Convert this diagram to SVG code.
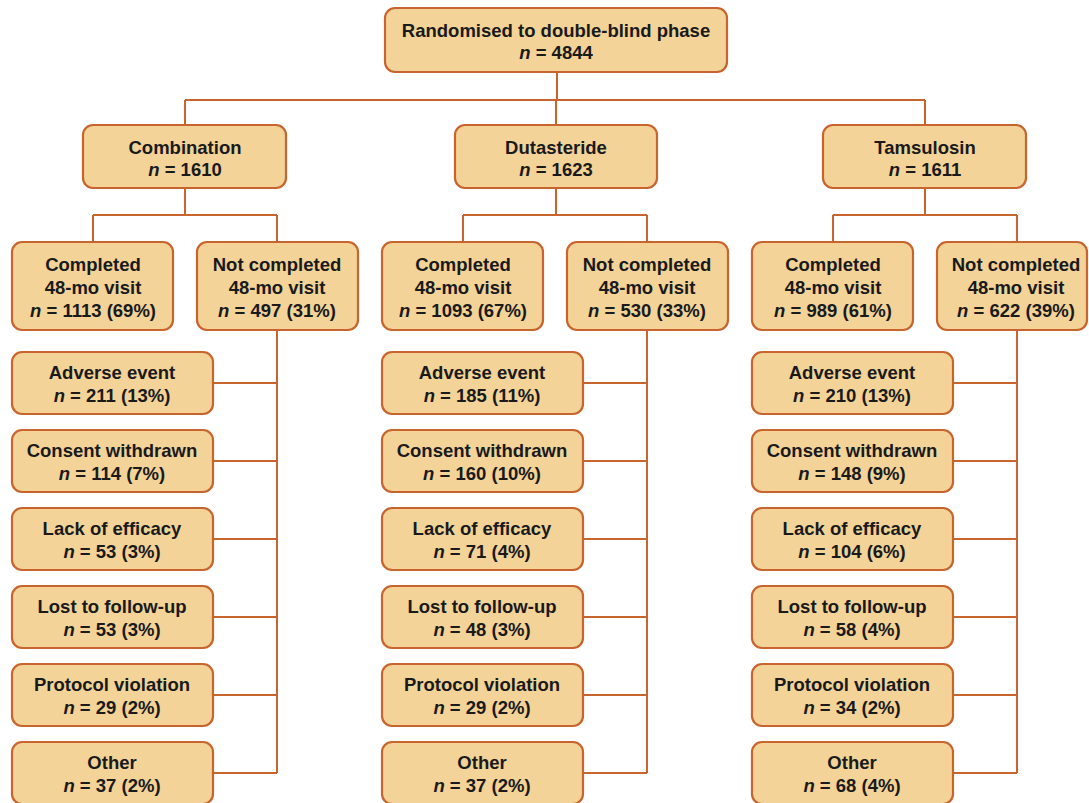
<svg xmlns="http://www.w3.org/2000/svg" width="1089" height="803" viewBox="0 0 1089 803">
<style>
.b{fill:#F3D398;stroke:#C8642D;stroke-width:2.2}
.t{font-family:"Liberation Sans",Arial,sans-serif;font-weight:bold;font-size:18.5px;fill:#1a1a1a;text-anchor:middle}
.i{font-style:italic}
.c{fill:none;stroke:#C8642D;stroke-width:2}
</style>
<rect width="1089" height="803" fill="#fff"/>
<g id="connectors" class="c">
<path d="M557 72V100M185 100H925M185 100V125M556 100V125M925 100V125"/>
<path d="M185 188V215M93 215H277M93 215V242M277 215V242"/>
<path d="M556 188V215M463 215H647M463 215V242M647 215V242"/>
<path d="M925 188V215M833 215H1017M833 215V242M1017 215V242"/>
<path d="M277 330V773M213 383H277M213 461H277M213 539H277M213 617H277M213 695H277M213 773H277"/>
<path d="M647 330V773M583 383H647M583 461H647M583 539H647M583 617H647M583 695H647M583 773H647"/>
<path d="M1017 330V773M953 383H1017M953 461H1017M953 539H1017M953 617H1017M953 695H1017M953 773H1017"/>
</g>
<g id="top"><rect class="b" x="385" y="8" width="342" height="64" rx="10"/><text class="t" x="556" y="37">Randomised to double-blind phase</text><text class="t" x="556" y="59"><tspan class="i">n</tspan> = 4844</text></g>
<g id="comb"><rect class="b" x="83" y="125" width="203" height="63" rx="10"/><text class="t" x="185" y="154">Combination</text><text class="t" x="185" y="176"><tspan class="i">n</tspan> = 1610</text></g>
<g id="dut"><rect class="b" x="455" y="125" width="202" height="63" rx="10"/><text class="t" x="556" y="154">Dutasteride</text><text class="t" x="556" y="176"><tspan class="i">n</tspan> = 1623</text></g>
<g id="tam"><rect class="b" x="823" y="125" width="203" height="63" rx="10"/><text class="t" x="925" y="154">Tamsulosin</text><text class="t" x="925" y="176"><tspan class="i">n</tspan> = 1611</text></g>

<g id="comb-comp"><rect class="b" x="12" y="242" width="161" height="88" rx="10"/><text class="t" x="93" y="271">Completed</text><text class="t" x="93" y="294">48-mo visit</text><text class="t" x="93" y="317"><tspan class="i">n</tspan> = 1113 (69%)</text></g>
<g id="comb-not"><rect class="b" x="197" y="242" width="161" height="88" rx="10"/><text class="t" x="277" y="271">Not completed</text><text class="t" x="277" y="294">48-mo visit</text><text class="t" x="277" y="317"><tspan class="i">n</tspan> = 497 (31%)</text></g>
<g id="dut-comp"><rect class="b" x="382" y="242" width="161" height="88" rx="10"/><text class="t" x="463" y="271">Completed</text><text class="t" x="463" y="294">48-mo visit</text><text class="t" x="463" y="317"><tspan class="i">n</tspan> = 1093 (67%)</text></g>
<g id="dut-not"><rect class="b" x="567" y="242" width="161" height="88" rx="10"/><text class="t" x="647" y="271">Not completed</text><text class="t" x="647" y="294">48-mo visit</text><text class="t" x="647" y="317"><tspan class="i">n</tspan> = 530 (33%)</text></g>
<g id="tam-comp"><rect class="b" x="752" y="242" width="161" height="88" rx="10"/><text class="t" x="833" y="271">Completed</text><text class="t" x="833" y="294">48-mo visit</text><text class="t" x="833" y="317"><tspan class="i">n</tspan> = 989 (61%)</text></g>
<g id="tam-not"><rect class="b" x="937" y="242" width="150" height="88" rx="10"/><text class="t" x="1016" y="271">Not completed</text><text class="t" x="1016" y="294">48-mo visit</text><text class="t" x="1016" y="317"><tspan class="i">n</tspan> = 622 (39%)</text></g>

<g id="c-ae"><rect class="b" x="12" y="352" width="201" height="62" rx="10"/><text class="t" x="112" y="379">Adverse event</text><text class="t" x="112" y="402"><tspan class="i">n</tspan> = 211 (13%)</text></g>
<g id="c-cw"><rect class="b" x="12" y="430" width="201" height="62" rx="10"/><text class="t" x="112" y="457">Consent withdrawn</text><text class="t" x="112" y="480"><tspan class="i">n</tspan> = 114 (7%)</text></g>
<g id="c-le"><rect class="b" x="12" y="508" width="201" height="62" rx="10"/><text class="t" x="112" y="535">Lack of efficacy</text><text class="t" x="112" y="558"><tspan class="i">n</tspan> = 53 (3%)</text></g>
<g id="c-lf"><rect class="b" x="12" y="586" width="201" height="62" rx="10"/><text class="t" x="112" y="613">Lost to follow-up</text><text class="t" x="112" y="636"><tspan class="i">n</tspan> = 53 (3%)</text></g>
<g id="c-pv"><rect class="b" x="12" y="664" width="201" height="62" rx="10"/><text class="t" x="112" y="691">Protocol violation</text><text class="t" x="112" y="714"><tspan class="i">n</tspan> = 29 (2%)</text></g>
<g id="c-ot"><rect class="b" x="12" y="742" width="201" height="62" rx="10"/><text class="t" x="112" y="769">Other</text><text class="t" x="112" y="792"><tspan class="i">n</tspan> = 37 (2%)</text></g>

<g id="d-ae"><rect class="b" x="382" y="352" width="201" height="62" rx="10"/><text class="t" x="482" y="379">Adverse event</text><text class="t" x="482" y="402"><tspan class="i">n</tspan> = 185 (11%)</text></g>
<g id="d-cw"><rect class="b" x="382" y="430" width="201" height="62" rx="10"/><text class="t" x="482" y="457">Consent withdrawn</text><text class="t" x="482" y="480"><tspan class="i">n</tspan> = 160 (10%)</text></g>
<g id="d-le"><rect class="b" x="382" y="508" width="201" height="62" rx="10"/><text class="t" x="482" y="535">Lack of efficacy</text><text class="t" x="482" y="558"><tspan class="i">n</tspan> = 71 (4%)</text></g>
<g id="d-lf"><rect class="b" x="382" y="586" width="201" height="62" rx="10"/><text class="t" x="482" y="613">Lost to follow-up</text><text class="t" x="482" y="636"><tspan class="i">n</tspan> = 48 (3%)</text></g>
<g id="d-pv"><rect class="b" x="382" y="664" width="201" height="62" rx="10"/><text class="t" x="482" y="691">Protocol violation</text><text class="t" x="482" y="714"><tspan class="i">n</tspan> = 29 (2%)</text></g>
<g id="d-ot"><rect class="b" x="382" y="742" width="201" height="62" rx="10"/><text class="t" x="482" y="769">Other</text><text class="t" x="482" y="792"><tspan class="i">n</tspan> = 37 (2%)</text></g>

<g id="t-ae"><rect class="b" x="752" y="352" width="201" height="62" rx="10"/><text class="t" x="852" y="379">Adverse event</text><text class="t" x="852" y="402"><tspan class="i">n</tspan> = 210 (13%)</text></g>
<g id="t-cw"><rect class="b" x="752" y="430" width="201" height="62" rx="10"/><text class="t" x="852" y="457">Consent withdrawn</text><text class="t" x="852" y="480"><tspan class="i">n</tspan> = 148 (9%)</text></g>
<g id="t-le"><rect class="b" x="752" y="508" width="201" height="62" rx="10"/><text class="t" x="852" y="535">Lack of efficacy</text><text class="t" x="852" y="558"><tspan class="i">n</tspan> = 104 (6%)</text></g>
<g id="t-lf"><rect class="b" x="752" y="586" width="201" height="62" rx="10"/><text class="t" x="852" y="613">Lost to follow-up</text><text class="t" x="852" y="636"><tspan class="i">n</tspan> = 58 (4%)</text></g>
<g id="t-pv"><rect class="b" x="752" y="664" width="201" height="62" rx="10"/><text class="t" x="852" y="691">Protocol violation</text><text class="t" x="852" y="714"><tspan class="i">n</tspan> = 34 (2%)</text></g>
<g id="t-ot"><rect class="b" x="752" y="742" width="201" height="62" rx="10"/><text class="t" x="852" y="769">Other</text><text class="t" x="852" y="792"><tspan class="i">n</tspan> = 68 (4%)</text></g>
</svg>
